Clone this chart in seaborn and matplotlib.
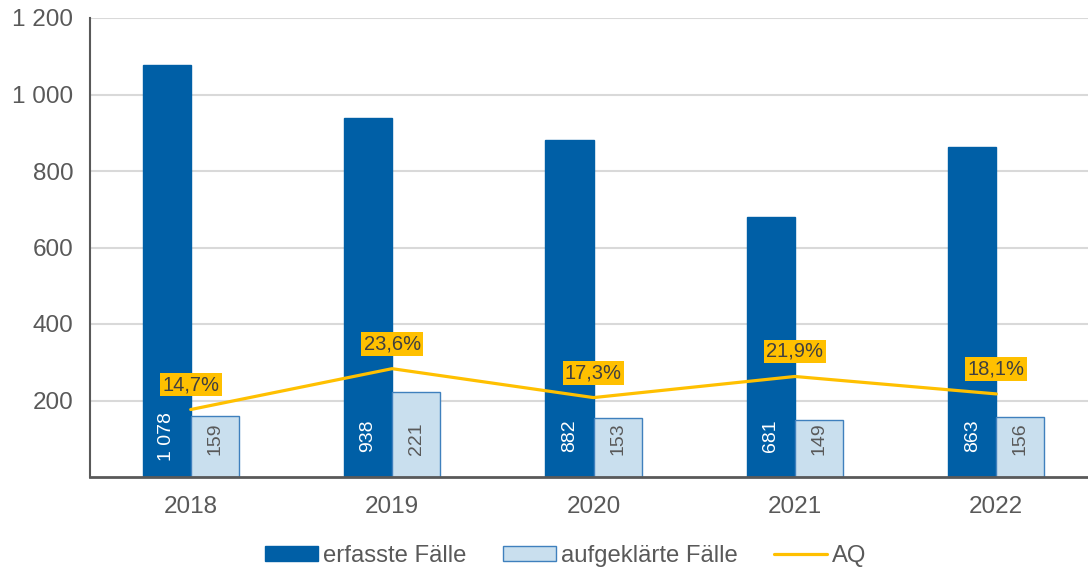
import matplotlib
matplotlib.use("Agg")
import matplotlib.pyplot as plt
import seaborn as sns
import pandas as pd
import numpy as np
from matplotlib.patches import Patch
from matplotlib.lines import Line2D

years = ["2018", "2019", "2020", "2021", "2022"]
erfasst = [1078, 938, 882, 681, 863]
aufgeklaert = [159, 221, 153, 149, 156]
aq = [14.7, 23.6, 17.3, 21.9, 18.1]
yticks = [200, 400, 600, 800, 1000, 1200]
ytick_labels = ["200", "400", "600", "800", "1 000", "1 200"]

c_dark = "#005FA6"
c_light = "#C9DFEE"
c_light_edge = "#3F80BD"
c_yellow = "#FFC000"
c_text = "#595959"

sns.set_theme(style="white")
plt.rcParams['font.family'] = ['Liberation Sans', 'DejaVu Sans']

df = pd.DataFrame({
    "Jahr": years * 2,
    "Wert": erfasst + aufgeklaert,
    "Serie": ["erfasste Fälle"] * 5 + ["aufgeklärte Fälle"] * 5,
})

fig = plt.figure(figsize=(10.88, 5.68), dpi=100)
ax = fig.add_axes([90 / 1088, 1 - 477 / 568, (1097 - 90) / 1088, (477 - 18) / 568])

sns.barplot(data=df, x="Jahr", y="Wert", hue="Serie", order=years,
            hue_order=["erfasste Fälle", "aufgeklärte Fälle"],
            palette=[c_dark, c_light], width=0.477, gap=0, ax=ax,
            legend=False, saturation=1)

for cont, ec in zip(ax.containers, [c_dark, c_light_edge]):
    for p in cont:
        p.set_edgecolor(ec)
        p.set_linewidth(1)

ax.set_ylim(0, 1200)
ax.set_xlim(-0.5, 4.5)
ax.set_yticks(yticks)
ax.set_yticklabels(ytick_labels)
ax.grid(axis="y", color="#D9D9D9", linewidth=1.5)
ax.set_axisbelow(True)
ax.set_xlabel("")
ax.set_ylabel("")
ax.tick_params(axis="y", length=0, labelsize=17.5, colors=c_text, pad=12)
ax.tick_params(axis="x", length=0, labelsize=17.5, colors=c_text, pad=14)
for s in ["top", "right"]:
    ax.spines[s].set_visible(False)
ax.spines["left"].set_color("#595959")
ax.spines["left"].set_linewidth(1.5)
ax.spines["bottom"].set_color("#595959")
ax.spines["bottom"].set_linewidth(2)

c0, c1 = ax.containers[0], ax.containers[1]
for p, v in zip(c0, erfasst):
    lbl = f"{v:,}".replace(",", " ")
    ax.text(p.get_x() + p.get_width() / 2, 107, lbl, rotation=90,
            ha="center", va="center", color="white", fontsize=14)
for p, v in zip(c1, aufgeklaert):
    ax.text(p.get_x() + p.get_width() / 2, 100, str(v), rotation=90,
            ha="center", va="center", color=c_text, fontsize=14)

ax2 = ax.twinx()
ax2.set_ylim(0, 100)
sns.lineplot(x=np.arange(len(years)), y=aq, ax=ax2, color=c_yellow,
             linewidth=2.3, legend=False)
ax2.set_xlim(-0.5, 4.5)
ax2.axis("off")
for i, v in enumerate(aq):
    ax2.annotate(f"{v:.1f}%".replace(".", ","), (i, v), xytext=(0, 25),
                 textcoords="offset pixels",
                 ha="center", va="center", fontsize=14.5, color="#404040",
                 bbox=dict(boxstyle="square,pad=0.12", fc=c_yellow, ec="none"))

handles = [Patch(facecolor=c_dark, edgecolor=c_dark),
           Patch(facecolor=c_light, edgecolor=c_light_edge),
           Line2D([0], [0], color=c_yellow, linewidth=2.3)]
labels = ["erfasste Fälle", "aufgeklärte Fälle", "AQ"]
leg = fig.legend(handles, labels, loc="center", ncol=3,
                 bbox_to_anchor=(0.52, 1 - 556 / 568), frameon=False,
                 fontsize=17.2, handlelength=2.2, handleheight=0.6,
                 handletextpad=0.2, columnspacing=1.55, borderpad=0)
for t in leg.get_texts():
    t.set_color(c_text)

fig.savefig("out.png", dpi=100)
